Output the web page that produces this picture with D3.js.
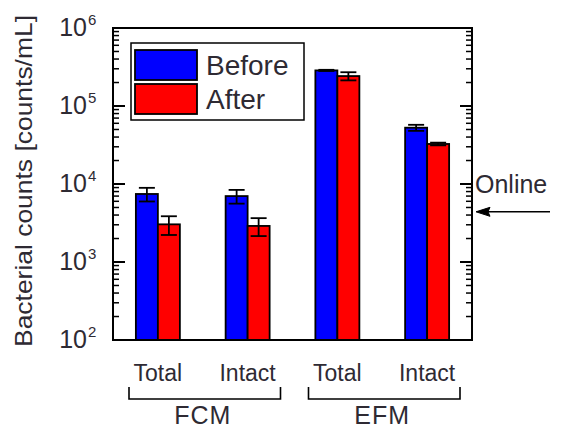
<!DOCTYPE html>
<html>
<head>
<meta charset="utf-8">
<script src="https://cdn.jsdelivr.net/npm/d3@7"></script>
<style>
  html, body { margin: 0; padding: 0; background: #fff; }
  text { font-family: "Liberation Sans", Arial, sans-serif; fill: #2e2a33; }
</style>
</head>
<body>
<div id="chart"></div>
<script>
// --- data ---
const methods = ["FCM", "EFM"];
const measures = ["Total", "Intact", "Total", "Intact"];
const groupIds = ["FCM-Total", "FCM-Intact", "EFM-Total", "EFM-Intact"];
const series = ["Before", "After"];
const before = [7450, 7000, 286000, 52700];
const beforeErr = [1480, 1400, 5000, 4700];
const after = [3040, 2900, 242000, 32600];
const afterErr = [820, 750, 29000, 1300];
const yTicks = [1e2, 1e3, 1e4, 1e5, 1e6];
const onlineValue = 4400;
const colors = { Before: "#0000ff", After: "#ff0000" };

const W = 565, H = 430;
const margin = { top: 28, right: 93, bottom: 90, left: 113 };
const w = W - margin.left - margin.right;
const h = H - margin.top - margin.bottom;

const svg = d3.select("#chart").append("svg")
  .attr("width", W).attr("height", H);
const g = svg.append("g").attr("transform", `translate(${margin.left},${margin.top})`);

const x0 = d3.scaleBand().domain(groupIds).range([0, w]);
const x1 = d3.scaleBand().domain(series).range([-22, 22]);
const y = d3.scaleLog().domain([1e2, 1e6]).range([h, 0]);

const rows = groupIds.map((id, i) => ({
  id, vals: [
    { s: "Before", v: before[i], e: beforeErr[i] },
    { s: "After", v: after[i], e: afterErr[i] }
  ]
}));

// bars
const grp = g.selectAll(".grp").data(rows).join("g")
  .attr("class", "grp")
  .attr("transform", d => `translate(${x0(d.id) + x0.bandwidth() / 2},0)`);

grp.selectAll("rect").data(d => d.vals).join("rect")
  .attr("x", d => x1(d.s))
  .attr("y", d => y(d.v))
  .attr("width", x1.bandwidth())
  .attr("height", d => h - y(d.v))
  .attr("fill", d => colors[d.s])
  .attr("stroke", "#000").attr("stroke-width", 1.8);

// error bars
const eb = grp.selectAll(".eb").data(d => d.vals).join("g").attr("class", "eb")
  .attr("transform", d => `translate(${x1(d.s) + x1.bandwidth() / 2},0)`)
  .attr("stroke", "#000").attr("stroke-width", 1.8);
eb.append("line").attr("y1", d => y(d.v + d.e)).attr("y2", d => y(d.v - d.e));
eb.append("line").attr("x1", -8).attr("x2", 8).attr("y1", d => y(d.v + d.e)).attr("y2", d => y(d.v + d.e));
eb.append("line").attr("x1", -8).attr("x2", 8).attr("y1", d => y(d.v - d.e)).attr("y2", d => y(d.v - d.e));

// frame
g.append("rect").attr("width", w).attr("height", h)
  .attr("fill", "none").attr("stroke", "#000").attr("stroke-width", 2);

// log ticks, inward on both sides
const minor = [];
for (let d = 2; d <= 5; d++) for (let k = 2; k <= 9; k++) minor.push(k * Math.pow(10, d));
const tk = g.append("g").attr("stroke", "#000").attr("stroke-width", 1.5);
minor.forEach(v => {
  tk.append("line").attr("x1", 0).attr("x2", 6).attr("y1", y(v)).attr("y2", y(v));
  tk.append("line").attr("x1", w).attr("x2", w - 6).attr("y1", y(v)).attr("y2", y(v));
});
yTicks.forEach(v => {
  tk.append("line").attr("x1", 0).attr("x2", 12).attr("y1", y(v)).attr("y2", y(v)).attr("stroke-width", 2);
  tk.append("line").attr("x1", w).attr("x2", w - 12).attr("y1", y(v)).attr("y2", y(v)).attr("stroke-width", 2);
});

// tick labels 10^n
g.selectAll(".tl").data(yTicks).join("text").attr("class", "tl")
  .attr("x", -26).attr("y", d => y(d) + 8)
  .attr("text-anchor", "end")
  .style("font-size", "25px")
  .text("10");
g.selectAll(".tsup").data(yTicks).join("text").attr("class", "tsup")
  .attr("x", -25).attr("y", d => y(d) - 3)
  .style("font-size", "15px")
  .text(d => Math.round(Math.log10(d)));

// y label
svg.append("text")
  .attr("transform", `translate(32,${margin.top + h / 2 - 3}) rotate(-90)`)
  .attr("text-anchor", "middle")
  .style("font-size", "24px")
  .attr("textLength", 332).attr("lengthAdjust", "spacingAndGlyphs")
  .text("Bacterial counts [counts/mL]");

// x category labels
g.selectAll(".xl").data(groupIds).join("text").attr("class", "xl")
  .attr("x", d => x0(d) + x0.bandwidth() / 2)
  .attr("y", h + 41)
  .attr("text-anchor", "middle")
  .style("font-size", "23px")
  .text((d, i) => measures[i]);

// method brackets
methods.forEach((m, i) => {
  const a = x0(groupIds[i * 2]) + 16;
  const b = x0(groupIds[i * 2 + 1]) + x0.bandwidth() - 12;
  g.append("path")
    .attr("d", `M${a},${h + 47}V${h + 59}H${b}V${h + 47}`)
    .attr("fill", "none").attr("stroke", "#000").attr("stroke-width", 1.6);
  g.append("text")
    .attr("x", (a + b) / 2 - 2).attr("y", h + 84)
    .attr("text-anchor", "middle")
    .style("font-size", "25px")
    .attr("letter-spacing", "1px")
    .text(m);
});

// legend
const lg = g.append("g").attr("transform", "translate(18,15)");
lg.append("rect").attr("width", 173).attr("height", 77)
  .attr("fill", "#fff").attr("stroke", "#000").attr("stroke-width", 1.5);
series.forEach((s, i) => {
  lg.append("rect").attr("x", 4).attr("y", 7 + i * 34).attr("width", 62).attr("height", 30)
    .attr("fill", colors[s]).attr("stroke", "#000").attr("stroke-width", 1.8);
  lg.append("text").attr("x", 75).attr("y", 32 + i * 34)
    .style("font-size", "28px").text(s);
});

// online arrow
const yo = margin.top + y(onlineValue);
svg.append("text").attr("x", 475).attr("y", margin.top + y(1e4) + 9)
  .style("font-size", "25px").text("Online");
svg.append("line")
  .attr("x1", 550).attr("x2", 488).attr("y1", yo).attr("y2", yo)
  .attr("stroke", "#000").attr("stroke-width", 1.5);
svg.append("path")
  .attr("d", `M476,${yo}L490,${yo - 4.5}L488,${yo}L490,${yo + 4.5}Z`)
  .attr("fill", "#000").attr("stroke", "#000").attr("stroke-width", 1);
</script>
</body>
</html>
